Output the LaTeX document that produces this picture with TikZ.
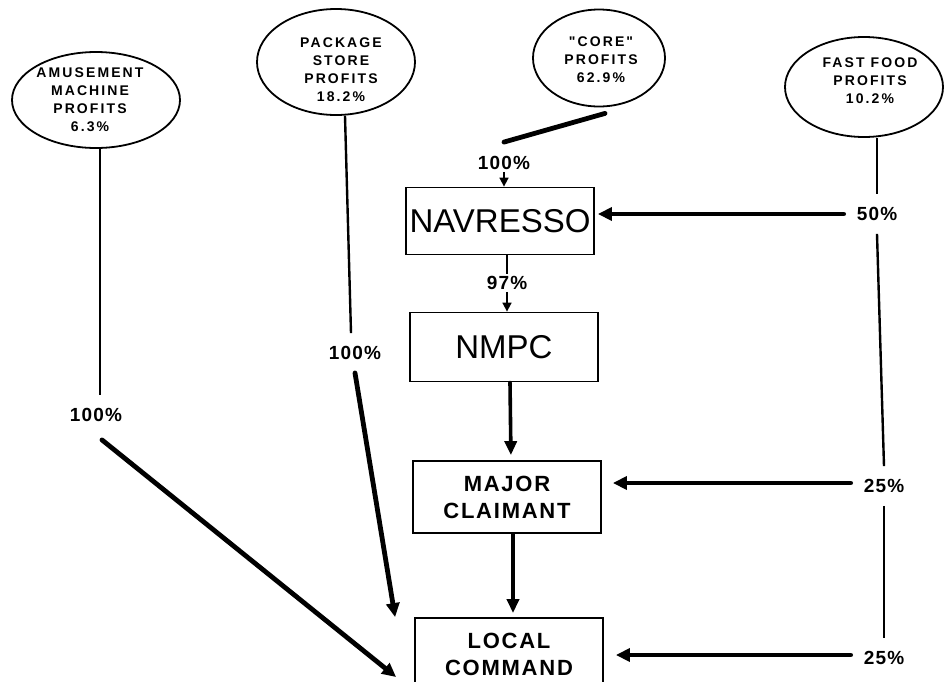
\documentclass[tikz,border=0pt]{standalone}
\usepackage{fontspec}
\setmainfont{Liberation Sans}
\newfontfamily\ellfont{Liberation Sans}[LetterSpace=15]
\newfontfamily\boxfont{Liberation Sans}[LetterSpace=8]
\newfontfamily\pctfont{Liberation Sans}[LetterSpace=6]
\usetikzlibrary{arrows.meta,shapes.geometric}
\tikzset{
  ell/.style={draw, ellipse, line width=1.8pt, inner sep=0pt},
  elltext/.style={inner sep=0pt, align=center,
    font=\ellfont\bfseries\fontsize{14}{18}\selectfont},
  box/.style={draw, line width=1.8pt, minimum width=188pt, inner sep=0pt, align=center},
  bigtitle/.style={font=\fontsize{33}{33}\selectfont},
  smalltitle/.style={font=\boxfont\bfseries\fontsize{22}{27}\selectfont},
  pct/.style={inner sep=13pt, font=\pctfont\bfseries\fontsize{19}{19}\selectfont},
  pctin/.style={pct, inner sep=2pt},
  thinln/.style={line width=2.4pt},
  fatln/.style={line width=4.8pt, line cap=round},
  fatarr/.style={fatln, -{Triangle[length=14pt,width=13pt]}},
  medarr/.style={line width=3.6pt, line cap=round, -{Triangle[length=14pt,width=12pt]}},
  smallarr/.style={line width=1.6pt, -{Triangle[length=9pt,width=9pt]}}
}
\begin{document}
\begin{tikzpicture}[x=1pt,y=-1pt]
\path[use as bounding box, fill=white] (0,0) rectangle (946,681);
\clip (0,0) rectangle (946,681);

% profit ellipses
\node[ell, minimum width=168pt, minimum height=96pt] (amuse) at (96,100) {};
\node[elltext] (amuseT) at (90,100) {AMUSEMENT\\MACHINE\\PROFITS\\6.3\%};
\node[ell, minimum width=158pt, minimum height=106pt] (pkg) at (336,62) {};
\node[elltext] (pkgT) at (341,70) {PACKAGE\\STORE\\PROFITS\\18.2\%};
\node[ell, minimum width=132pt, minimum height=97pt] (core) at (599,58) {};
\node[elltext] (coreT) at (601,60) {"CORE"\\PROFITS\\62.9\%};
\node[ell, minimum width=158pt, minimum height=100pt] (fast) at (864,87) {};
\node[elltext] (fastT) at (870,81) {FAST FOOD\\PROFITS\\10.2\%};

% boxes
\node[box, bigtitle, minimum height=67pt] (nav) at (500,221) {NAVRESSO};
\node[box, bigtitle, minimum height=69pt] (nmpc) at (504,347) {NMPC};
\node[box, smalltitle, minimum height=72pt] (major) at (507,497) {MAJOR\\CLAIMANT};
\node[box, smalltitle, minimum height=72pt] (local) at (509,654) {LOCAL\\COMMAND};

% percentage labels
\node[pct] (pa) at (96,415) {100\%};
\node[pct] (pp) at (355,353) {100\%};
\node[pctin] (pc) at (504,163) {100\%};
\node[pctin] (p97) at (507,283) {97\%};
\node[pct] (p50) at (877,214) {50\%};
\node[pct] (p25a) at (884,486) {25\%};
\node[pct] (p25b) at (884,658) {25\%};

% amusement machine
\draw[thinln] ([xshift=4pt]amuse.south) -- ([xshift=4pt]pa.north);
\draw[fatarr] ([xshift=6pt,yshift=-5pt]pa.south) -- ([xshift=-18pt,yshift=-23pt]local.west);

% package store
\draw[thinln] ([xshift=9pt]pkg.south) -- ([xshift=-4pt]pp.north);
\draw[fatarr] (pp.south) -- ([xshift=-19pt]local.north west);

% core
\draw[fatln] ([xshift=6pt,yshift=-6pt]core.south) -- ([yshift=12pt]pc.north);
\draw[smallarr] (pc.south) -- (pc.south |- nav.north);
\draw[thinln] (p97.north |- nav.south) -- (p97.north);
\draw[smallarr] (p97.south) -- (p97.south |- nmpc.north);

% chain
\draw[medarr, shorten >=5pt] ([xshift=6pt]nmpc.south) -- ([xshift=4pt]major.north);
\draw[medarr, shorten >=4pt] ([xshift=6pt]major.south) -- ([xshift=4pt]local.north);

% fast food
\draw[thinln] ([xshift=13pt]fast.south) -- (p50.north);
\draw[thinln] (p50.south) -- (p25a.north);
\draw[thinln] (p25a.south) -- (p25b.north);
\draw[fatarr, shorten >=3pt] (p50.west) -- (p50.west -| nav.east);
\draw[fatarr, shorten >=11pt] ([yshift=3pt]p25a.west) -- ([yshift=3pt]p25a.west -| major.east);
\draw[fatarr, shorten >=12pt] ([yshift=3pt]p25b.west) -- ([yshift=3pt]p25b.west -| local.east);
\end{tikzpicture}
\end{document}
